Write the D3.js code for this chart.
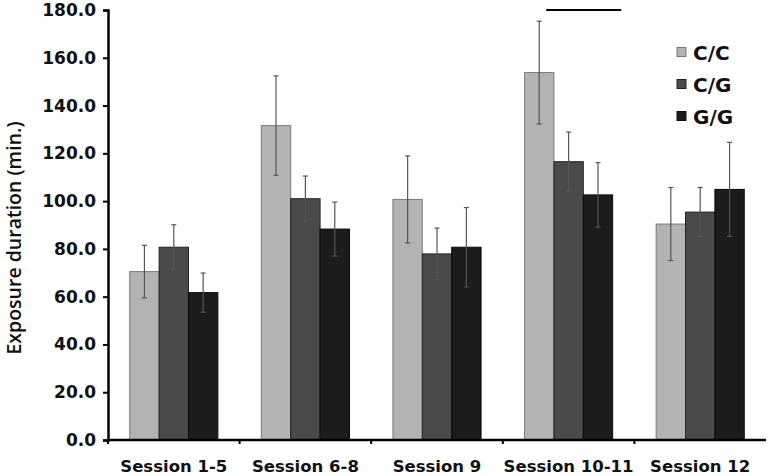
<!DOCTYPE html>
<html>
<head>
<meta charset="utf-8">
<script src="https://cdn.jsdelivr.net/npm/d3@7"></script>
<style>
    body { margin: 0; background: #ffffff; }
    svg { display: block; }
    .tick-label { font-family: "DejaVu Sans"; font-weight: bold; }
</style>
</head>
<body>
<div id="chart"></div>
<script>
// data
const sessions = ["Session 1-5", "Session 6-8", "Session 9", "Session 10-11", "Session 12"];
const genotypes = ["C/C", "C/G", "G/G"];
const ccMean = [70.5, 131.6, 100.7, 153.8, 90.4];
const ccErr  = [11.0, 20.8, 18.2, 21.5, 15.3];
const cgMean = [80.7, 101.0, 77.9, 116.5, 95.4];
const cgErr  = [9.4, 9.5, 10.8, 12.4, 10.3];
const ggMean = [61.7, 88.3, 80.7, 102.6, 104.9];
const ggErr  = [8.2, 11.3, 16.6, 13.5, 19.7];
const yTicks = [0, 20, 40, 60, 80, 100, 120, 140, 160, 180];
// significance bar over Session 10-11
const sigSession = "Session 10-11";
const sigValue = 180;

const W = 770, H = 476;
const margin = { top: 10, right: 4, bottom: 36, left: 108 };

const fills = ["#b3b3b3", "#4a4a4a", "#1c1c1c"];
const strokes = ["#7a7a7a", "#222222", "#0a0a0a"];

const means = [ccMean, cgMean, ggMean];
const errs = [ccErr, cgErr, ggErr];

const rows = [];
sessions.forEach((s, i) => {
    genotypes.forEach((g, j) => {
        rows.push({ session: s, geno: g, k: j, mean: means[j][i], err: errs[j][i] });
    });
});

const svg = d3.select("#chart").append("svg")
    .attr("width", W)
    .attr("height", H);

const x = d3.scaleBand()
    .domain(sessions)
    .range([margin.left, W - margin.right])
    .paddingInner(0)
    .paddingOuter(0);

const xg = d3.scaleBand()
    .domain(genotypes)
    .range([0, x.bandwidth()])
    .paddingOuter(0.74)
    .paddingInner(0);

const y = d3.scaleLinear()
    .domain([0, 180])
    .range([H - margin.bottom, margin.top]);

// bars
svg.selectAll(".bar")
    .data(rows)
    .enter().append("rect")
    .attr("class", "bar")
    .attr("x", d => x(d.session) + xg(d.geno))
    .attr("y", d => y(d.mean))
    .attr("width", xg.bandwidth())
    .attr("height", d => y(0) - y(d.mean))
    .attr("fill", d => fills[d.k])
    .attr("stroke", d => strokes[d.k])
    .attr("stroke-width", 1);

// error bars
const cx = d => x(d.session) + xg(d.geno) + xg.bandwidth() / 2;
const eb = svg.append("g").attr("stroke", "#555").attr("stroke-width", 1.2);
eb.selectAll(".err")
    .data(rows)
    .enter().append("line")
    .attr("x1", cx).attr("x2", cx)
    .attr("y1", d => y(d.mean + d.err))
    .attr("y2", d => y(d.mean - d.err));
eb.selectAll(".capt")
    .data(rows)
    .enter().append("line")
    .attr("x1", d => cx(d) - 2.5).attr("x2", d => cx(d) + 2.5)
    .attr("y1", d => y(d.mean + d.err)).attr("y2", d => y(d.mean + d.err));
eb.selectAll(".capb")
    .data(rows)
    .enter().append("line")
    .attr("x1", d => cx(d) - 2.5).attr("x2", d => cx(d) + 2.5)
    .attr("y1", d => y(d.mean - d.err)).attr("y2", d => y(d.mean - d.err));

// y axis
const yAxis = svg.append("g")
    .attr("transform", `translate(${margin.left},0)`)
    .call(d3.axisLeft(y).tickValues(yTicks).tickFormat(d3.format(".1f")).tickSize(5).tickPadding(7));
yAxis.select(".domain").attr("stroke", "#000").attr("stroke-width", 2.5);
yAxis.selectAll(".tick line").attr("stroke", "#000").attr("stroke-width", 2);
yAxis.selectAll(".tick text")
    .attr("class", "tick-label")
    .style("font-size", "17px")
    .attr("fill", "#111");

// x axis, ticks at the category boundaries
const xAxis = svg.append("g")
    .attr("transform", `translate(0,${y(0)})`);
xAxis.append("line")
    .attr("x1", margin.left).attr("x2", W - margin.right)
    .attr("stroke", "#000").attr("stroke-width", 2.5);
xAxis.selectAll(".xt")
    .data(sessions)
    .enter().append("line")
    .attr("x1", d => x(d)).attr("x2", d => x(d))
    .attr("y1", 0).attr("y2", 4)
    .attr("stroke", "#000").attr("stroke-width", 2);
xAxis.selectAll(".xl")
    .data(sessions)
    .enter().append("text")
    .attr("class", "tick-label")
    .attr("x", d => x(d) + x.bandwidth() / 2)
    .attr("y", 32)
    .attr("text-anchor", "middle")
    .style("font-size", "16.5px")
    .attr("fill", "#111")
    .text(d => d);

// y title
svg.append("text")
    .attr("transform", `translate(21,238) rotate(-90)`)
    .attr("text-anchor", "middle")
    .style("font-family", "Open Sans")
    .style("font-weight", "600")
    .style("font-size", "19.5px")
    .attr("fill", "#111")
    .text("Exposure duration (min.)");

// significance line
svg.append("line")
    .attr("x1", x(sigSession) + x.bandwidth() * 0.33)
    .attr("x2", x(sigSession) + x.bandwidth() * 0.90)
    .attr("y1", y(sigValue)).attr("y2", y(sigValue))
    .attr("stroke", "#000").attr("stroke-width", 2);

// legend
const legend = svg.selectAll(".legend")
    .data(genotypes)
    .enter().append("g")
    .attr("transform", (d, i) => `translate(677,${52 + i * 32})`);
legend.append("rect")
    .attr("x", 0).attr("y", -4.5)
    .attr("width", 9).attr("height", 9)
    .attr("fill", (d, i) => fills[i])
    .attr("stroke", (d, i) => strokes[i]);
legend.append("text")
    .attr("class", "tick-label")
    .attr("x", 16)
    .attr("y", 8)
    .style("font-size", "20px")
    .attr("fill", "#111")
    .text(d => d);
</script>
</body>
</html>
